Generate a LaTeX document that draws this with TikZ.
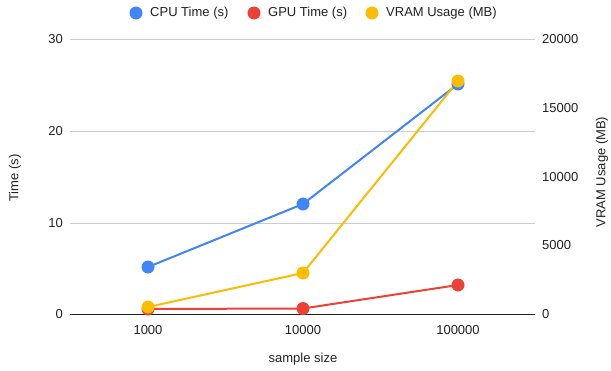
\documentclass[tikz,border=0pt]{standalone}
\usepackage{fontspec}
\setmainfont{Liberation Sans}
\definecolor{cpu}{HTML}{4285F4}
\definecolor{gpu}{HTML}{EA4335}
\definecolor{vram}{HTML}{FBBC04}
\definecolor{grid}{HTML}{CCCCCC}
\definecolor{txt}{HTML}{222222}
\begin{document}
\begin{tikzpicture}[x=1pt,y=-1pt,
  lbl/.style={font=\fontsize{13}{15}\selectfont,text=txt,inner sep=0pt},
  dot/.style={circle,fill=#1,minimum size=13pt,inner sep=0pt},
  serie/.style={draw=#1,line width=2pt}]
\useasboundingbox[fill=white] (0,0) rectangle (611,370);
% grid
\foreach \v/\y in {10/223,20/131,30/39}{
  \draw[grid,line width=1pt] (70,\y) -- (535,\y);
}
\draw[txt,line width=1pt] (70,314) -- (535,314);
% left labels
\foreach \v/\y in {0/314,10/223,20/131,30/39}{
  \node[lbl,anchor=east] at (63,\y) {\v};
}
% right labels
\foreach \v/\y in {0/314,5000/245,10000/177,15000/108,20000/39}{
  \node[lbl,anchor=west] at (542,\y) {\v};
}
% x labels
\node[lbl] at (148,330) {1000};
\node[lbl] at (303,330) {10000};
\node[lbl] at (458,330) {100000};
% axis titles
\node[lbl,rotate=90] (yt) at (15,178) {Time (s)};
\node[lbl,rotate=90] (yt2) at (602,172) {VRAM Usage (MB)};
\node[lbl] (xt) at (303,359) {sample size};
% data points
\coordinate (c1) at (148,267);
\coordinate (c2) at (303,204);
\coordinate (c3) at (458,84);
\coordinate (g1) at (148,309);
\coordinate (g2) at (303,308.5);
\coordinate (g3) at (458,285);
\coordinate (v1) at (148,307);
\coordinate (v2) at (303,273);
\coordinate (v3) at (458,81);
\draw[serie=cpu] (c1) -- (c2) -- (c3);
\draw[serie=gpu] (g1) -- (g2) -- (g3);
\draw[serie=vram] (v1) -- (v2) -- (v3);
\foreach \p in {c1,c2,c3}{\node[dot=cpu] (n\p) at (\p) {};}
\foreach \p in {g1,g2,g3}{\node[dot=gpu] (n\p) at (\p) {};}
\foreach \p in {v1,v2,v3}{\node[dot=vram] (n\p) at (\p) {};}
% legend
\node[dot=cpu] (lc) at (136,13) {};
\node[lbl,anchor=west] (tc) at (150,13) {CPU Time (s)};
\node[dot=gpu] (lg) at (254,13) {};
\node[lbl,anchor=west] (tg) at (268,13) {GPU Time (s)};
\node[dot=vram] (lv) at (372,13) {};
\node[lbl,anchor=west] (tv) at (386,13) {VRAM Usage (MB)};
\end{tikzpicture}
\end{document}
